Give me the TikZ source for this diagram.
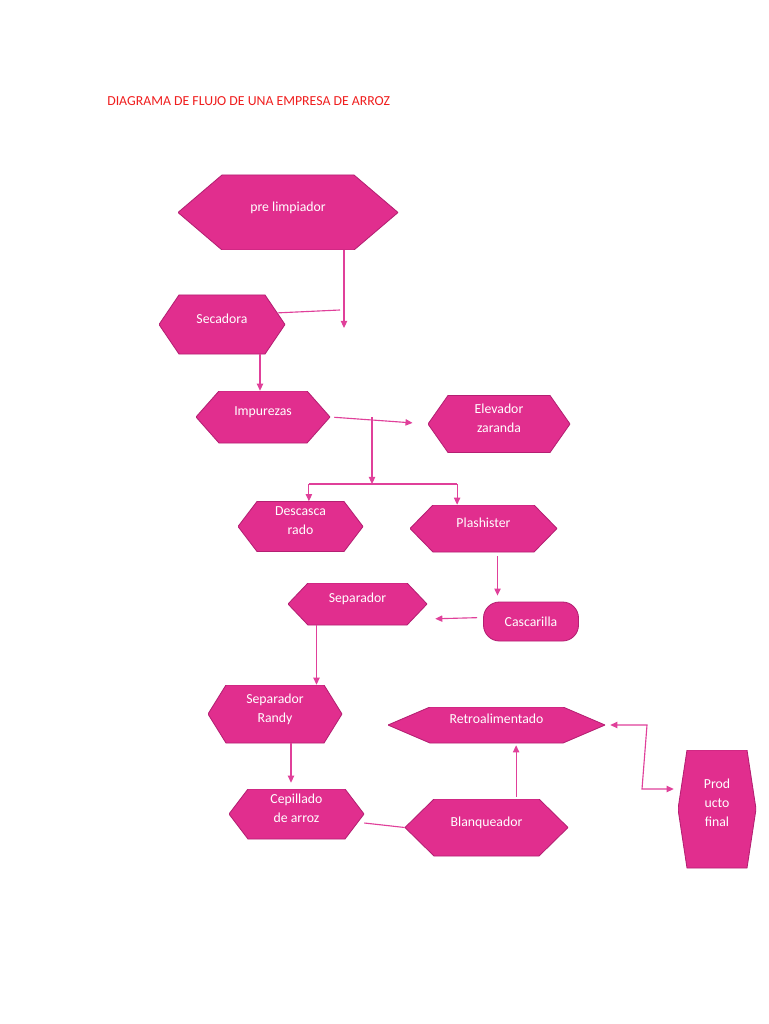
\documentclass[tikz,border=0pt]{standalone}
\usepackage{fontspec}
\setmainfont{Carlito}
\usetikzlibrary{arrows.meta}
\definecolor{ricepink}{HTML}{E12E8E}
\definecolor{riceedge}{HTML}{B41F72}
\definecolor{riceline}{HTML}{E0409A}
\definecolor{titlered}{HTML}{F01E1E}

\begin{document}
\begin{tikzpicture}[x=0.25mm, y=-0.25mm, font=\fontsize{9.8}{13.5}\selectfont,
	hexbox/.style={inner sep=0pt, text=white, align=center, text depth=8.5pt,
		path picture={\fill[ricepink, draw=riceedge, line width=0.6pt]
			([xshift=#1]path picture bounding box.north west)
			-- ([xshift=-#1]path picture bounding box.north east)
			-- (path picture bounding box.east)
			-- ([xshift=-#1]path picture bounding box.south east)
			-- ([xshift=#1]path picture bounding box.south west)
			-- (path picture bounding box.west) -- cycle;}},
	pillbox/.style={draw=riceedge, fill=ricepink, line width=0.6pt, rounded corners=4mm, text=white, inner sep=0pt},
	arrow/.style={draw=riceline, line width=0.8pt, -{Triangle[length=5pt,width=4.5pt]}},
	dblarrow/.style={draw=riceline, line width=0.8pt, {Triangle[length=5pt,width=4.5pt]}-{Triangle[length=5pt,width=4.5pt]}},
	link/.style={draw=riceline, line width=0.8pt}]
	\path[use as bounding box, fill=white] (0,0) rectangle (768,1024);

	\node[anchor=base west, text=titlered, inner sep=0pt] (title) at (107,106) {DIAGRAMA DE FLUJO DE UNA EMPRESA DE ARROZ};

	% etapas
	\node[hexbox=11mm, minimum width=55mm, minimum height=18.75mm] (pre) at (288,212.5) {pre limpiador};
	\node[hexbox=5mm, minimum width=31.5mm, minimum height=14.75mm] (seca) at (222,324.5) {Secadora};
	\node[hexbox=5.75mm, minimum width=33.5mm, minimum height=13mm] (impu) at (263,417) {Impurezas};
	\node[hexbox=5mm, minimum width=35.5mm, minimum height=14.25mm] (elev) at (499,424) {Elevador\\zaranda};
	\node[hexbox=4.75mm, minimum width=31.25mm, minimum height=12.5mm] (desc) at (300.5,526.5) {Descasca\\rado};
	\node[hexbox=5.75mm, minimum width=36.75mm, minimum height=11.75mm] (plash) at (483.5,528.5) {Plashister};
	\node[hexbox=5mm, minimum width=34.75mm, minimum height=10.5mm] (sep) at (357.5,604) {Separador};
	\node[pillbox, minimum width=23.75mm, minimum height=9.75mm] (casc) at (531,621.5) {Cascarilla};
	\node[hexbox=4.5mm, minimum width=33.5mm, minimum height=14.5mm] (randy) at (275,714) {Separador\\Randy};
	\node[hexbox=10.5mm, minimum width=54.25mm, minimum height=9mm] (retro) at (496.5,725) {Retroalimentado};
	\node[hexbox=4.75mm, minimum width=33.75mm, minimum height=12.5mm] (cepi) at (296.5,814) {Cepillado\\de arroz};
	\node[hexbox=7.25mm, minimum width=40.75mm, minimum height=14.25mm] (blanq) at (486.5,827.5) {Blanqueador};
	\node[hexbox=2.25mm, minimum width=19.5mm, minimum height=29.5mm] (prod) at (717,809) {Prod\\ucto\\final};

	% flechas
	\coordinate (drop) at (344,328);
	\draw[arrow] (pre.south -| drop) -- (drop);
	\draw[link] ([xshift=-2mm,yshift=2.9mm]seca.east) -- ([xshift=-1mm,yshift=4.5mm]drop);
	\draw[arrow] ([xshift=9.5mm]seca.south) -- ([xshift=9.5mm]seca.south |- impu.north);
	\draw[arrow, shorten <=1mm, shorten >=3.8mm] (impu.east) -- (elev.west);
	\coordinate (split) at (372,484);
	\draw[arrow] (impu.east -| split) -- (split);
	\draw[link] ([xshift=2.1mm]desc.north |- split) -- ([xshift=-6.6mm]plash.north |- split);
	\draw[arrow] ([xshift=2.1mm]desc.north |- split) -- ([xshift=2.1mm]desc.north);
	\draw[arrow] ([xshift=-6.6mm]plash.north |- split) -- ([xshift=-6.6mm]plash.north);
	\draw[arrow, shorten <=1mm, shorten >=1.5mm] ([xshift=3.5mm]plash.south) -- ([xshift=3.5mm]plash.south |- casc.north);
	\draw[arrow, shorten <=1.5mm, shorten >=2mm] ([yshift=1mm]casc.west) -- ([yshift=-3.75mm]sep.east);
	\draw[arrow] ([xshift=-10.25mm]sep.south) -- ([xshift=-10.25mm]sep.south |- randy.north);
	\draw[arrow, shorten >=1.5mm] ([xshift=4mm]randy.south) -- ([xshift=4mm]randy.south |- cepi.north);
	\draw[link] ([yshift=-2.25mm]cepi.east) -- (blanq.west);
	\draw[arrow, shorten <=0.5mm, shorten >=0.5mm] ([xshift=7.4mm]blanq.north) -- ([xshift=7.4mm]blanq.north |- retro.south);
	\coordinate (bend) at (642,760);
	\coordinate (prodin) at ([xshift=-1mm,yshift=5mm]prod.west);
	\draw[dblarrow] ([xshift=1.25mm]retro.east) -- ([xshift=1.25mm]retro.east -| bend) -- (bend |- prodin) -- (prodin);
\end{tikzpicture}
\end{document}
